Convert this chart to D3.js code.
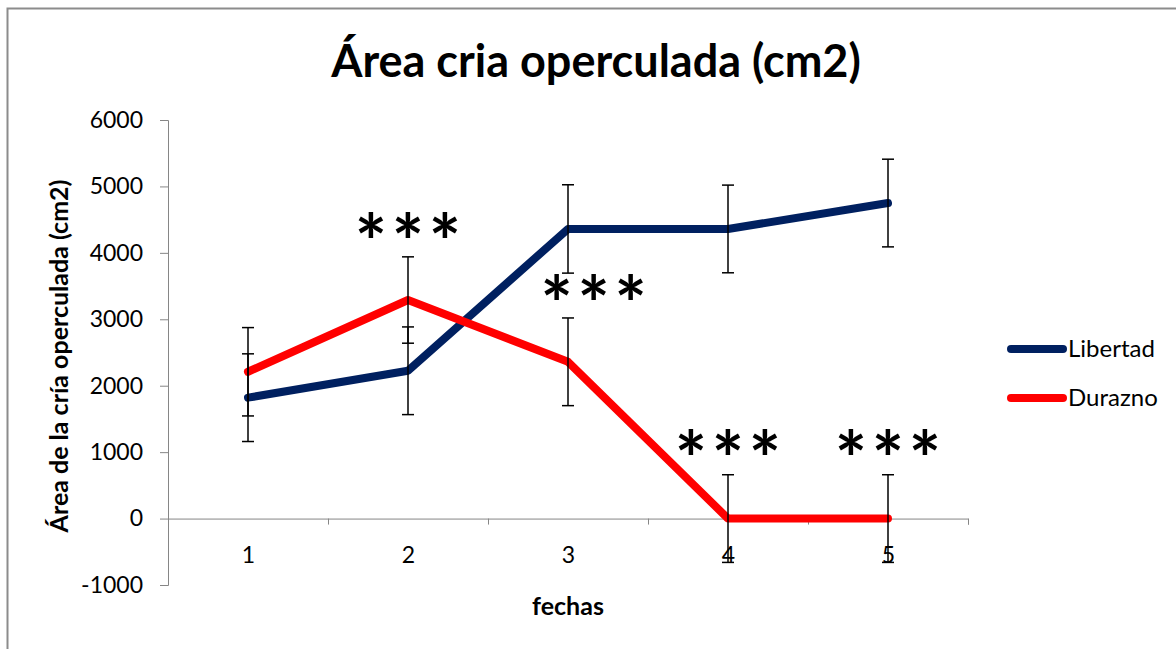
<!DOCTYPE html>
<html>
<head>
<meta charset="utf-8">
<script src="https://cdn.jsdelivr.net/npm/d3@7"></script>
<style>
  body { margin: 0; background: #fff; }
  svg { display: block; }
  text { font-family: Lato, "Open Sans", sans-serif; fill: #000; }
  .axis path, .axis line { stroke: #868686; }
  .axis text { font-size: 23px; font-family: Lato, sans-serif; }
</style>
</head>
<body>
<svg id="chart" width="1176" height="649"></svg>
<script>
const fechas = [1, 2, 3, 4, 5];
const libertad = [1820, 2225, 4360, 4360, 4750];
const libertadErr = [660, 660, 665, 660, 660];
const durazno = [2210, 3290, 2360, 0, 0];
const duraznoErr = [665, 650, 660, 660, 660];
const yTicks = [-1000, 0, 1000, 2000, 3000, 4000, 5000, 6000];
// significance marks: fecha position, height (cm2) of the mark centre
const marcas = [
  { fecha: 2, valor: 4400 },
  { fecha: 3.16, valor: 3470 },
  { fecha: 4, valor: 1140 },
  { fecha: 5, valor: 1140 }
];
const seriesNames = ["Libertad", "Durazno"];
const seriesColors = ["#002060", "#ff0000"];

const svg = d3.select("#chart");
const margin = { top: 120, left: 168 },
  width = 800,
  height = 465;

// outer chart frame
svg.append("rect")
  .attr("x", 7.5).attr("y", 8.5)
  .attr("width", 1200).attr("height", 700)
  .style("fill", "none").style("stroke", "#8c8c8c").style("stroke-width", 2);

const g = svg.append("g")
  .attr("transform", `translate(${margin.left},${margin.top})`);

const x = d3.scaleLinear().domain([0.5, 5.5]).range([0, width]);
const y = d3.scaleLinear().domain([-1000, 6000]).range([height, 0]);

g.append("g")
  .attr("class", "axis y")
  .call(d3.axisLeft(y).tickValues(yTicks).tickSize(8).tickPadding(17).tickFormat((d) => String(d)))
  .attr("font-family", null).attr("font-size", null);

const xAxis = g.append("g")
  .attr("class", "axis x")
  .attr("transform", `translate(0,${y(0)})`);
xAxis.call(d3.axisBottom(x).tickValues(d3.range(0.5, 6, 1)).tickSize(6).tickFormat(""));
xAxis.append("g")
  .call(d3.axisBottom(x).tickValues(fechas).tickSize(0).tickPadding(28).tickFormat((d) => String(d)))
  .attr("font-family", null).attr("font-size", null)
  .call((s) => s.select(".domain").remove());

const line = d3.line().x((d, i) => x(fechas[i])).y((d) => y(d));
[libertad, durazno].forEach((vals, k) => {
  g.append("path")
    .datum(vals)
    .attr("d", line)
    .style("fill", "none")
    .style("stroke", seriesColors[k])
    .style("stroke-width", 8)
    .style("stroke-linejoin", "round")
    .style("stroke-linecap", "round");
});

// error bars
[[libertad, libertadErr], [durazno, duraznoErr]].forEach(([vals, errs]) => {
  const eb = g.append("g").style("stroke", "#000").style("stroke-width", 1.5);
  vals.forEach((v, i) => {
    const cx = x(fechas[i]);
    eb.append("line").attr("x1", cx).attr("x2", cx).attr("y1", y(v - errs[i])).attr("y2", y(v + errs[i]));
    [v - errs[i], v + errs[i]].forEach((e) => {
      eb.append("line").attr("x1", cx - 6).attr("x2", cx + 6).attr("y1", y(e)).attr("y2", y(e));
    });
  });
});

// *** marks
marcas.forEach((m) => {
  const t = g.append("text")
    .attr("y", y(m.valor) + 44)
    .style("font-size", "76px")
    .style("font-weight", "bold")
    .attr("text-anchor", "middle");
  [-37, 0, 37].forEach((dx) => {
    t.append("tspan").attr("x", x(m.fecha) + dx).text("*");
  });
});

// titles
svg.append("text")
  .attr("x", 596).attr("y", 77)
  .attr("text-anchor", "middle")
  .style("font-size", "45px").style("font-weight", "bold")
  .text("Área cria operculada (cm2)");

svg.append("text")
  .attr("transform", "translate(68,356) rotate(-90)")
  .attr("text-anchor", "middle")
  .style("font-size", "25px").style("font-weight", "bold")
  .text("Área de la cría operculada (cm2)");

svg.append("text")
  .attr("x", margin.left + x(3)).attr("y", 615)
  .attr("text-anchor", "middle")
  .style("font-size", "25px").style("font-weight", "bold")
  .text("fechas");

// legend
const lg = svg.append("g").attr("transform", "translate(1007,349)");
seriesNames.forEach((name, k) => {
  const row = lg.append("g").attr("transform", `translate(0,${k * 49})`);
  row.append("line")
    .attr("x1", 4).attr("x2", 56)
    .style("stroke", seriesColors[k]).style("stroke-width", 8).style("stroke-linecap", "round");
  row.append("text")
    .attr("x", 61).attr("y", 8)
    .style("font-size", "24px")
    .text(name);
});
</script>
</body>
</html>
